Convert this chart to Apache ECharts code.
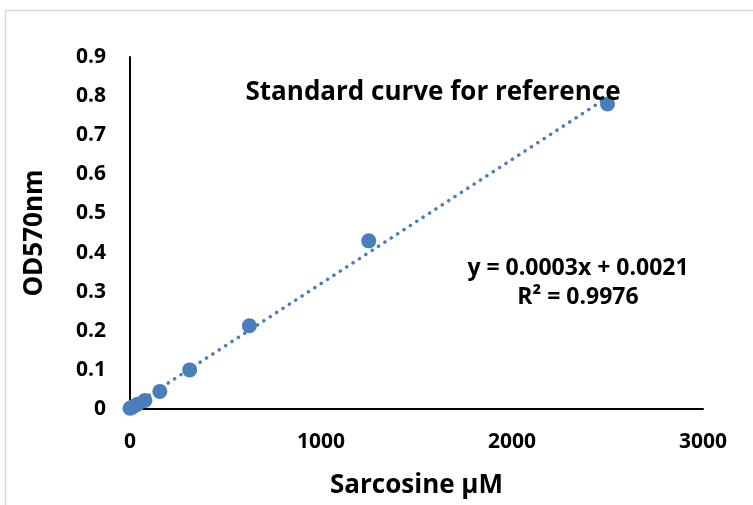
<!DOCTYPE html>
<html>
<head>
<meta charset="utf-8">
<script src="https://cdn.jsdelivr.net/npm/echarts@6/dist/echarts.min.js"></script>
<style>
html,body{margin:0;padding:0;background:#fff;}
#chart{width:753px;height:505px;}
</style>
</head>
<body>
<div id="chart"></div>
<script>
// 标准曲线数据
var conc = [0, 9.77, 19.5, 39, 78, 156.25, 312.5, 625, 1250, 2500];
var od = [0.002, 0.004, 0.007, 0.012, 0.022, 0.045, 0.1, 0.213, 0.43, 0.78];
var xTicks = [0, 1000, 2000, 3000];
var yTicks = [0, 0.1, 0.2, 0.3, 0.4, 0.5, 0.6, 0.7, 0.8, 0.9];
var eqText = 'y = 0.0003x + 0.0021';
var r2Text = 'R² = 0.9976';

var font = 'Open Sans';

// 线性拟合
var n = conc.length, sx = 0, sy = 0, sxx = 0, sxy = 0;
for (var i = 0; i < n; i++) {
    sx += conc[i]; sy += od[i];
    sxx += conc[i] * conc[i]; sxy += conc[i] * od[i];
}
var slope = (n * sxy - sx * sy) / (n * sxx - sx * sx);
var icpt = (sy - slope * sx) / n;
var xmax = conc[n - 1];
var trend = [[0, icpt], [xmax, icpt + slope * xmax]];

var points = [];
for (var j = 0; j < n; j++) points.push([conc[j], od[j]]);

var chart = echarts.init(document.getElementById('chart'));
var option = {
    animation: false,
    grid: {left: 130, right: 50, top: 57, bottom: 96},
    title: {
        text: 'Standard curve for reference',
        left: 428, top: 75, textAlign: 'center',
        textStyle: {fontFamily: font, fontWeight: 'bold', fontSize: 26, color: '#000'}
    },
    xAxis: {
        type: 'value', min: 0, max: 3000, interval: 1000,
        name: 'Sarcosine µM', nameLocation: 'middle', nameGap: 64,
        nameTextStyle: {fontFamily: font, fontWeight: 'bold', fontSize: 26, color: '#000'},
        axisLine: {lineStyle: {color: '#000', width: 2}},
        axisTick: {show: false},
        splitLine: {show: false},
        axisLabel: {
            margin: 23, fontFamily: font, fontWeight: 'bold', fontSize: 21, color: '#000',
            formatter: function (v) { return xTicks.indexOf(v) >= 0 ? String(v) : ''; }
        }
    },
    yAxis: {
        type: 'value', min: 0, max: 0.9, interval: 0.1,
        name: 'OD570nm', nameLocation: 'middle', nameGap: 82,
        nameTextStyle: {fontFamily: font, fontWeight: 'bold', fontSize: 26, color: '#000'},
        axisLine: {show: true, lineStyle: {color: '#000', width: 2}},
        axisTick: {show: false},
        splitLine: {show: false},
        axisLabel: {
            margin: 24, fontFamily: font, fontWeight: 'bold', fontSize: 21, color: '#000',
            formatter: function (v) {
                var k = Math.round(v * 10);
                return k === 0 ? '0' : String(yTicks[k]);
            }
        }
    },
    series: [
        {
            type: 'line', data: trend, symbol: 'none', z: 1,
            lineStyle: {color: '#4a7ebb', width: 3.5, type: [0.1, 7.5], cap: 'round'}
        },
        {
            type: 'scatter', data: points, symbolSize: 15, z: 2,
            itemStyle: {color: '#4a7ebb', opacity: 1}
        }
    ],
    graphic: [
        {
            type: 'rect', silent: true, z: -1,
            shape: {x: 5.5, y: 10.5, width: 800, height: 600},
            style: {fill: 'none', stroke: '#d9d9d9', lineWidth: 1.5}
        },
        {
            type: 'text', x: 578, y: 268,
            style: {text: eqText, font: 'bold 23px "Open Sans"', fill: '#000', textAlign: 'center', textVerticalAlign: 'middle'}
        },
        {
            type: 'text', x: 578, y: 297,
            style: {text: r2Text, font: 'bold 23px "Open Sans"', fill: '#000', textAlign: 'center', textVerticalAlign: 'middle'}
        }
    ]
};
chart.setOption(option);
</script>
</body>
</html>
